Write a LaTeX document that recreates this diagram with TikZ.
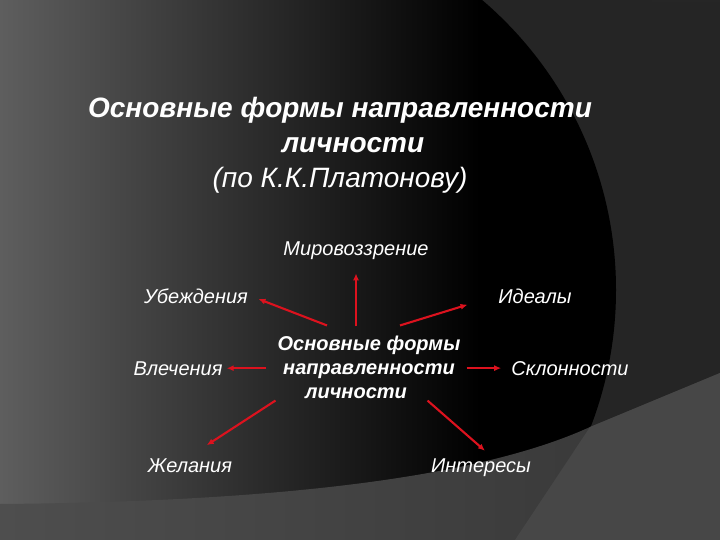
\documentclass[tikz,border=0pt]{standalone}
\usepackage{fontspec}
\setmainfont{Liberation Sans}
\usetikzlibrary{arrows.meta}
\definecolor{arrred}{HTML}{DC121E}
\definecolor{bgdark}{HTML}{252525}
\definecolor{bgleft}{HTML}{5E5E5E}
\definecolor{bandl}{HTML}{4E4E4E}
\definecolor{bandr}{HTML}{363636}
\definecolor{bandlight}{HTML}{474747}

\begin{document}
\begin{tikzpicture}[x=1pt, y=-1pt,
    lbl/.style={text=white, font=\fontsize{20}{24}\selectfont\itshape, inner sep=2pt, anchor=base},
    core/.style={text=white, align=center, font=\fontsize{20}{24}\selectfont\bfseries\itshape, inner sep=2pt},
    heading/.style={text=white, align=center, font=\fontsize{28}{35}\selectfont\itshape},
    arr/.style={draw=arrred, line width=2.1pt, -{Latex[length=7pt,width=6pt]}}]
  \useasboundingbox (0,0) rectangle (720,540);
  % background
  \fill[bgdark] (0,0) rectangle (720,540);
  \begin{scope}
    \clip (235,290) circle (381pt);
    \shade[left color=bgleft, right color=black] (0,-100) rectangle (480,700);
    \fill[black] (480,-100) rectangle (620,700);
  \end{scope}
  \shade[left color=bandl, right color=bandr] (0,504) .. controls (250,502) and (470,482) .. (590,427) -- (720,373) -- (720,540) -- (0,540) -- cycle;
  \fill[bandlight] (590,427) -- (720,373) -- (720,540) -- (515,540) -- cycle;
  \fill[black!85] (652,0) rectangle (720,2.5);

  % title
  \node[heading] (title) at (340,145) {\textbf{Основные формы направленности}\\\textbf{\hspace*{26pt}личности}\\(по К.К.Платонову)};

  % centre and forms
  \node[core] (c) at (369,367) {Основные формы\\направленности\\личности\hspace*{26pt}};
  \node[lbl] (mir) at (356,255) {Мировоззрение};
  \node[lbl] (ub) at (196,303) {Убеждения};
  \node[lbl] (id) at (535,303) {Идеалы};
  \node[lbl] (vl) at (178,375) {Влечения};
  \node[lbl] (sk) at (570,375) {Склонности};
  \node[lbl] (zh) at (190,472) {Желания};
  \node[lbl] (in) at (481,472) {Интересы};

  \draw[arr, shorten <=7pt, shorten >=12pt] (c.north -| mir.south) -- (mir.south);
  \draw[arr, shorten >=9pt] ([xshift=-42pt,yshift=8pt]c.north) -- (ub.east);
  \draw[arr, shorten >=30pt] ([xshift=31pt,yshift=8pt]c.north) -- (id.west);
  \draw[arr, shorten <=9pt, shorten >=2pt] (c.west |- vl.east) -- (vl.east);
  \draw[arr, shorten <=4pt, shorten >=8pt] (c.east |- sk.west) -- (sk.west);
  \draw[arr, shorten >=20pt] (c.south west) -- (zh.north);
  \draw[arr, shorten >=8pt] ([xshift=-35pt]c.south east) -- ([xshift=10pt]in.north);
\end{tikzpicture}
\end{document}
